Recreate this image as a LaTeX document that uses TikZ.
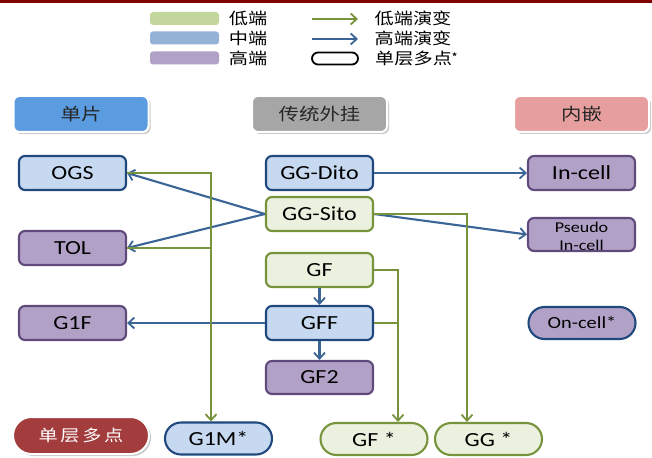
\documentclass[tikz,border=0pt]{standalone}
\usepackage{fontspec}
\setmainfont{Carlito}[FakeStretch=1.2]
\newfontfamily\cjk{Noto Sans CJK SC}[FakeStretch=1.2]
\usetikzlibrary{arrows.meta,shapes.misc,shadows,calc}

\definecolor{topred}{RGB}{128,0,0}
\definecolor{lblue}{RGB}{198,217,241}
\definecolor{dblue}{RGB}{31,73,125}
\definecolor{lpurp}{RGB}{178,161,199}
\definecolor{dpurp}{RGB}{96,74,123}
\definecolor{lgreen}{RGB}{235,241,222}
\definecolor{dgreen}{RGB}{119,147,60}
\definecolor{arrblue}{RGB}{58,101,150}
\definecolor{swgreen}{RGB}{195,214,155}
\definecolor{swblue}{RGB}{149,179,215}
\definecolor{swpurp}{RGB}{178,161,199}
\definecolor{hdrblue}{RGB}{91,155,223}
\definecolor{hdrgray}{RGB}{166,166,166}
\definecolor{hdrpink}{RGB}{230,158,158}
\definecolor{pillred}{RGB}{163,60,60}

\tikzset{
  latin/.style={font=\fontsize{20}{22}\selectfont, text=black},
  box/.style={rectangle, rounded corners=6pt, line width=2.1pt,
    minimum width=107pt, minimum height=34pt, inner sep=0pt, latin},
  midbox/.style={box, fill=lblue, draw=dblue},
  lowbox/.style={box, fill=lgreen, draw=dgreen},
  highbox/.style={box, fill=lpurp, draw=dpurp},
  pill/.style={rounded rectangle, line width=2.1pt, minimum width=107pt,
    minimum height=32pt, inner sep=0pt, latin},
  hdr/.style={rectangle, rounded corners=6pt, draw=white, line width=2pt,
    minimum width=135pt, minimum height=36pt, inner sep=0pt,
    font=\cjk\fontsize{17}{19}\selectfont, text=black!85,
    drop shadow={shadow xshift=2pt, shadow yshift=-2pt, opacity=0.35, fill=black!60}},
  swatch/.style={rectangle, rounded corners=3pt, minimum width=69pt,
    minimum height=13pt, inner sep=0pt},
  legtext/.style={font=\cjk\fontsize{16}{18}\selectfont, inner sep=0pt},
  lowarr/.style={draw=dgreen, line width=2.1pt,
    -{Straight Barb[length=6pt,width=11pt,line width=1.8pt]}},
  lowline/.style={draw=dgreen, line width=2.1pt},
  higharr/.style={draw=arrblue, line width=2.1pt,
    -{Straight Barb[length=6pt,width=11pt,line width=1.8pt]}},
}

\begin{document}
\begin{tikzpicture}[x=1pt,y=-1pt]
\useasboundingbox (0,0) rectangle (652,457);
\fill[white] (0,0) rectangle (652,457);
\fill[topred] (0,0) rectangle (652,3);

% legend
\node[swatch, fill=swgreen] (swL) at (184.5,18.5) {};
\node[swatch, fill=swblue]  (swM) at (184.5,38) {};
\node[swatch, fill=swpurp]  (swH) at (184.5,58) {};
\node[legtext] (tL) at (248,18.5) {低端};
\node[legtext] (tM) at (248,38.5) {中端};
\node[legtext] (tH) at (248,58.5) {高端};
\coordinate (la1) at (312,19);
\coordinate (la2) at (358,19);
\coordinate (lb1) at (312,39);
\coordinate (lb2) at (358,39);
\draw[lowarr] (la1) -- (la2);
\draw[higharr] (lb1) -- (lb2);
\node[rounded rectangle, draw=black, line width=1.8pt, minimum width=46pt,
  minimum height=12pt, inner sep=0pt] (legpill) at (335,58.5) {};
\node[legtext] (tLow) at (413,18.5) {低端演变};
\node[legtext] (tHigh) at (413,38.5) {高端演变};
\node[legtext, anchor=west] (tSingle) at (375,58.5) {单层多点\raisebox{5pt}{\fontsize{8}{8}\selectfont\bfseries *}};

% column headers
\node[hdr, fill=hdrblue] (h1) at (81,114) {单片};
\node[hdr, fill=hdrgray] (h2) at (319.5,114) {传统外挂};
\node[hdr, fill=hdrpink] (h3) at (581.5,114) {内嵌};

% process nodes
\node[midbox]  (OGS)  at (72.5,173)   {OGS};
\node[midbox]  (Dito) at (319.5,173)  {GG-Dito};
\node[highbox] (Incell) at (581.5,173) {In-cell};
\node[lowbox]  (Sito) at (319.5,214)  {GG-Sito};
\node[highbox] (TOL)  at (72.5,248)   {TOL};
\node[highbox, minimum height=33pt,
  path picture={\node[font=\fontsize{15}{18}\selectfont, align=center, inner sep=0pt]
    at ([yshift=-2pt]path picture bounding box.center) {Pseudo\\In-cell};}]
  (Pseudo) at (581.5,234.5) {};
\node[lowbox]  (GF)   at (319.5,270)  {GF};
\node[midbox]  (GFF)  at (319.5,323)  {GFF};
\node[highbox] (GoneF) at (72.5,323)  {G1F};
\node[highbox, minimum height=33pt] (GFtwo) at (319.5,377.5) {GF2};
\node[pill, fill=lpurp, draw=dblue, font=\fontsize{17}{20}\selectfont] (Oncell) at (582,323) {On-cell*};

% single-layer multi-touch row
\node[rounded rectangle, fill=pillred, draw=white, line width=2pt,
  minimum width=136pt, minimum height=37pt, inner sep=0pt,
  font=\cjk\fontsize{16}{18}\selectfont, text=white,
  drop shadow={shadow xshift=2pt, shadow yshift=-2pt, opacity=0.35, fill=black!60}]
  (slmp) at (81,435.5) {单\,层\,多\,点};
\node[pill, fill=lblue, draw=dblue] (GoneM) at (218.5,438.5) {G1M*};
\node[pill, fill=lgreen, draw=dgreen] (GFs) at (374,439) {GF *};
\node[pill, fill=lgreen, draw=dgreen] (GGs) at (488.5,439) {GG *};

% high-end evolution
\draw[higharr] (Sito.west) -- (OGS.east);
\draw[higharr] (Sito.west) -- (TOL.east);
\draw[higharr] (Dito.east) -- (Incell.west);
\draw[higharr] (Sito.east) -- (Pseudo.west);
\draw[higharr] (GF.south) -- (GFF.north);
\draw[higharr] (GFF.south) -- (GFtwo.north);
\draw[higharr] (GFF.west) -- (GoneF.east);

% low-end evolution
\coordinate (jA) at (211,173);
\coordinate (jB) at (398,270);
\coordinate (jC) at (467,213);
\draw[lowarr] (OGS.east) -- (OGS.east -| jA) -- (jA |- GoneM.north);
\draw[lowline] (TOL.east) -- (TOL.east -| jA);
\draw[lowarr] (GF.east) -- (GF.east -| jB) -- (jB |- GFs.north);
\draw[lowline] (GFF.east) -- (GFF.east -| jB);
\draw[lowarr] (Sito.east) -- (Sito.east -| jC) -- (jC |- GGs.north);
\end{tikzpicture}
\end{document}
